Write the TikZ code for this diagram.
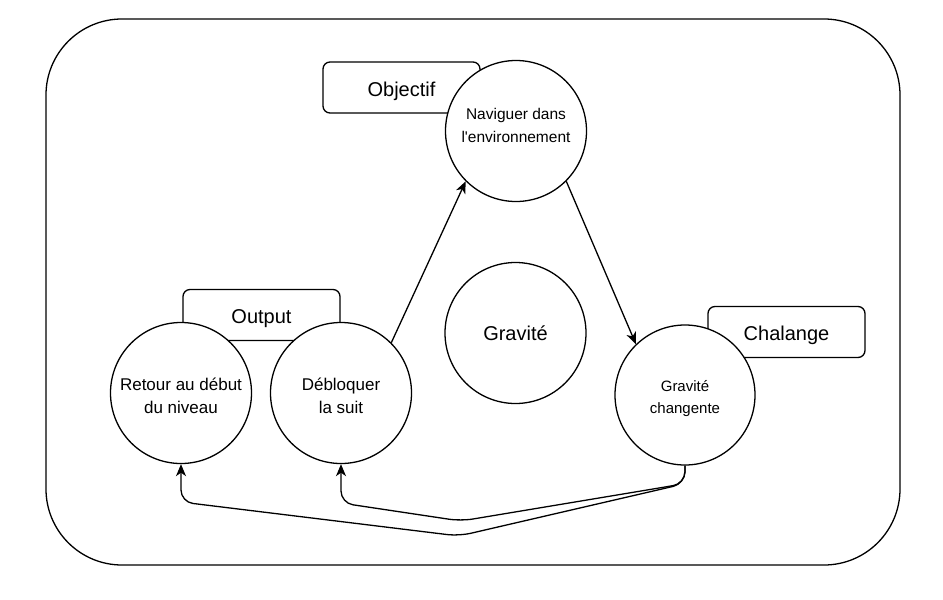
\documentclass[tikz,border=0pt]{standalone}
\usepackage{fontspec}
\setmainfont{Liberation Sans}
\newfontfamily\plainsans{Liberation Sans}
\usetikzlibrary{arrows.meta}
\begin{document}
\begin{tikzpicture}[x=1pt,y=-1pt,
  frame/.style={draw, line width=1.3pt, rounded corners=76pt},
  tab/.style={draw, fill=white, line width=1.3pt, rounded corners=7pt, minimum width=157pt, minimum height=51pt, inner sep=0pt, text height=17pt, text depth=0pt, font=\fontsize{20}{24}\selectfont},
  bubble/.style={draw, fill=white, line width=1.3pt, circle, minimum size=141pt, inner sep=0pt, align=center},
  btext/.style={align=center, inner sep=0pt},
  link/.style={-{Stealth[length=12pt,width=10pt,inset=3.5pt]}, line width=1.3pt}]
\useasboundingbox (0,0) rectangle (943,600);
\draw[frame] (46,19) rectangle (900,565);
% tabs
\node[tab] (obj) at (401.5,87.5) {Objectif};
\node[tab] (out) at (261.5,315) {Output};
\node[tab] (cha) at (786.5,332) {Chalange};
% circles
\node[bubble, label={[btext, font=\plainsans\fontsize{15.5}{23}\selectfont, yshift=6pt]center:Naviguer dans\\l'environnement}] (nav) at (516,131) {};
\node[bubble, font=\fontsize{20}{24}\selectfont] (grav) at (515.5,333) {Gravité};
\node[bubble, label={[btext, font=\fontsize{17}{23}\selectfont, yshift=-3pt]center:Retour au début\\du niveau}] (ret) at (181,393) {};
\node[bubble, label={[btext, font=\fontsize{17}{23}\selectfont, yshift=-3pt]center:Débloquer\\la suit}] (deb) at (341,393) {};
\node[bubble, minimum size=140pt, label={[btext, font=\fontsize{15}{22}\selectfont, yshift=-4pt]center:Gravité\\changente}] (gc) at (685,395) {};
% connectors
\draw[link] (deb.45) -- (nav.225);
\draw[link] (nav.-45) -- (gc.134);
\draw[link, rounded corners=12pt] (gc.south) -- ++(0,18) -- (461,521) -- (341,503) -- (deb.south);
\draw[link, rounded corners=12pt] (gc.south) -- ++(0,18) -- (459,536) -- (181,502) -- (ret.south);
\end{tikzpicture}
\end{document}
